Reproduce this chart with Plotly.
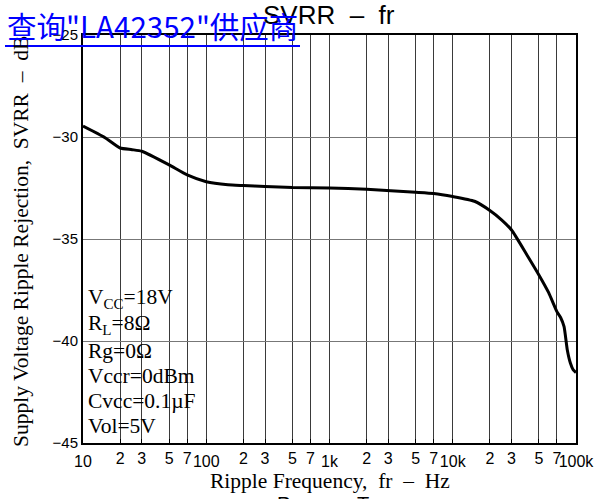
import plotly.graph_objects as go

# Ripple frequency (Hz) and supply-voltage ripple rejection (dB)
freq_hz = [10, 15, 20, 25, 30, 50, 70, 100, 150, 200, 300, 500, 1000, 2000,
           5000, 7000, 10000, 15000, 20000, 25000, 30000, 40000, 50000,
           60000, 70000, 75000, 80000, 85000, 90000, 95000, 100000]
svrr_db = [-29.46, -30.02, -30.54, -30.62, -30.70, -31.37, -31.86, -32.19,
           -32.34, -32.38, -32.43, -32.48, -32.50, -32.56, -32.71, -32.77,
           -32.92, -33.15, -33.60, -34.07, -34.56, -35.78, -36.76, -37.63,
           -38.56, -38.85, -39.30, -40.44, -41.08, -41.42, -41.55]

# Axis ticks
minor_vals = [20, 30, 50, 70, 200, 300, 500, 700, 2000, 3000, 5000, 7000,
              20000, 30000, 50000, 70000]
minor_text = ["2", "3", "5", "7"] * 4
major_vals = [10, 100, 1000, 10000, 100000]
major_text = ["10", "100", "1k", "10k", "100k"]
y_vals = [-45, -40, -35, -30, -25]

# Test conditions
conditions = ["V<sub>CC</sub>=18V", "R<sub>L</sub>=8Ω", "Rg=0Ω", "Vccr=0dBm",
              "Cvcc=0.1µF", "Vol=5V"]

W, H = 594, 499
L, R, T, B = 83, 576, 35, 443
NB = "\u00a0"


def px(x):
    return (x - L) / (R - L)


def py(y):
    return (B - y) / (B - T)


fig = go.Figure()
fig.add_trace(go.Scatter(
    x=freq_hz, y=svrr_db, mode="lines",
    line=dict(color="black", width=3, shape="spline", smoothing=0.5),
    hoverinfo="skip", showlegend=False))
# companion trace for the major-label axis
fig.add_trace(go.Scatter(
    x=freq_hz, y=svrr_db, xaxis="x2", mode="lines",
    line=dict(color="rgba(0,0,0,0)", width=0),
    hoverinfo="skip", showlegend=False))

x_font = dict(family="Liberation Sans", size=16, color="black")
y_font = dict(family="Liberation Sans", size=15, color="black")
serif = "Liberation Serif"
serif_size = 21.5

fig.update_layout(
    width=W, height=H,
    margin=dict(l=L, r=W - R, t=T, b=H - B, autoexpand=False),
    paper_bgcolor="white", plot_bgcolor="white",
    xaxis=dict(
        type="log", range=[1, 5], automargin=False,
        tickmode="array", tickvals=minor_vals + major_vals,
        ticktext=minor_text + [""] * len(major_vals),
        ticks="inside", ticklen=4, tickcolor="black", tickwidth=1,
        showgrid=True, gridcolor="#3a3a3a", gridwidth=1,
        showline=True, linecolor="black", linewidth=2, mirror=True,
        tickfont=x_font, zeroline=False,
    ),
    xaxis2=dict(
        type="log", range=[1, 5], overlaying="x", anchor="y", side="bottom",
        automargin=False, ticklabeloverflow="allow",
        tickmode="array", tickvals=major_vals, ticktext=major_text,
        ticks="", showgrid=False, showline=False, zeroline=False,
        tickfont=x_font, ticklabelstandoff=7,
    ),
    yaxis=dict(
        range=[-45, -25], tickmode="array", tickvals=y_vals, automargin=False,
        ticks="", showgrid=True, gridcolor="#777777", gridwidth=1,
        showline=True, linecolor="black", linewidth=2, mirror=True,
        tickfont=y_font, zeroline=False,
    ),
)

# white panel holding the test conditions
fig.add_shape(type="rect", xref="paper", yref="paper",
              x0=px(L + 1), x1=px(211), y0=py(B - 1), y1=py(287),
              fillcolor="white", line=dict(width=0), layer="between")

line_y = [299, 325, 351, 376, 401, 426]
for text, yy in zip(conditions, line_y):
    fig.add_annotation(xref="paper", yref="paper", x=px(86), y=py(yy),
                       xanchor="left", yanchor="middle", text=text,
                       showarrow=False,
                       font=dict(family=serif, size=serif_size, color="black"))

# chart title
fig.add_annotation(xref="paper", yref="paper", x=px(329), y=py(15),
                   xanchor="center", yanchor="middle",
                   text=f"SVRR{NB}{NB}–{NB}{NB}fr", showarrow=False,
                   font=dict(family="Liberation Sans", size=26, color="black"))

# axis titles
fig.add_annotation(xref="paper", yref="paper", x=px(330), y=py(481),
                   xanchor="center", yanchor="middle",
                   text=f"Ripple Frequency,{NB}{NB}fr{NB}{NB}–{NB}{NB}Hz",
                   showarrow=False,
                   font=dict(family=serif, size=serif_size, color="black"))
fig.add_annotation(xref="paper", yref="paper", x=px(21), y=py(242),
                   xanchor="center", yanchor="middle", textangle=-90,
                   text=f"Supply Voltage Ripple Rejection,{NB}{NB}SVRR{NB}{NB}–{NB}{NB}dB",
                   showarrow=False,
                   font=dict(family=serif, size=serif_size, color="black"))

# next section heading, running off the bottom edge
fig.add_annotation(xref="paper", yref="paper", x=px(276), y=py(492),
                   xanchor="left", yanchor="top",
                   text=f"Po{NB}{NB}{NB}{NB}–{NB}{NB}{NB}{NB}Ta", showarrow=False,
                   borderpad=0,
                   font=dict(family="Liberation Sans", size=20, color="black"))

# link banner
fig.add_annotation(xref="paper", yref="paper", x=px(5), y=py(25),
                   xanchor="left", yanchor="middle",
                   text="查询\"LA42352\"供应商", showarrow=False,
                   font=dict(family="Noto Sans CJK SC", size=29.5, color="#0000ff"))
fig.add_shape(type="line", xref="paper", yref="paper",
              x0=px(5), x1=px(300), y0=py(46), y1=py(46),
              line=dict(color="#0000ff", width=2), layer="above")

fig.write_html("out.html")
